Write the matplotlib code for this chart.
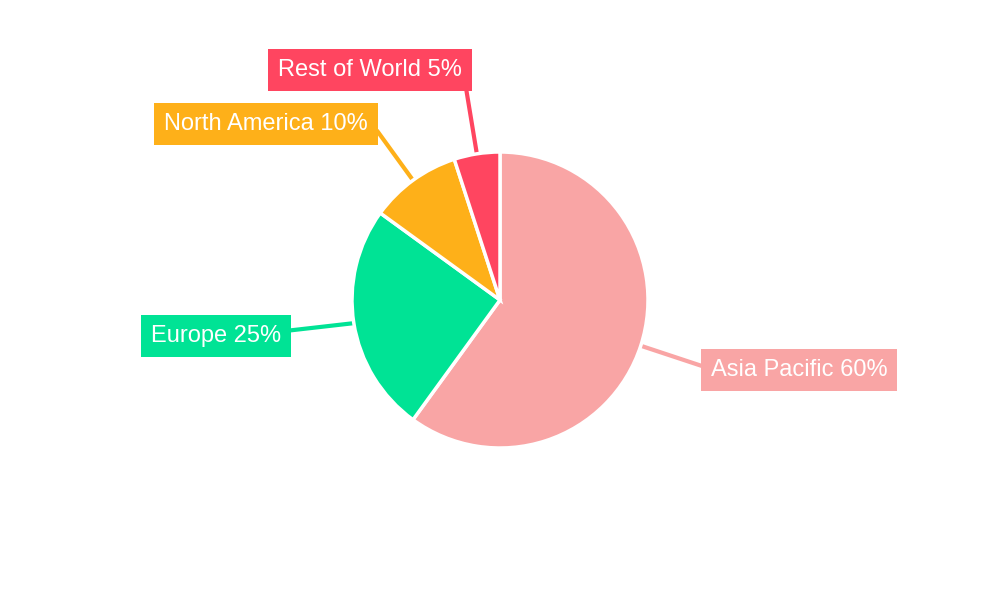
import matplotlib
matplotlib.use("Agg")
import matplotlib.pyplot as plt
import numpy as np

labels = ["Asia Pacific", "Europe", "North America", "Rest of World"]
values = [60, 25, 10, 5]
colors = ["#F9A5A5", "#00E395", "#FEB019", "#FF4560"]
# label box centres and leader line ends (data coords, pie centre at 0,0)
box_pos = [(299, -70), (-284, -36), (-234, 176), (-130, 230)]
line_end = [(205, -67), (-215, -31), (-122, 168), (-34, 212)]

plt.rcParams['font.family'] = ['Liberation Sans', 'DejaVu Sans']
fig = plt.figure(figsize=(10, 6), dpi=100)
ax = fig.add_axes([0, 0, 1, 1])

R = 148
wedges, _ = ax.pie(values, colors=colors, startangle=90, counterclock=False,
                   radius=R, center=(0, 0), frame=True,
                   wedgeprops=dict(edgecolor="white", linewidth=2.5))
ax.set_xlim(-500, 500)
ax.set_ylim(-300, 300)
ax.set_aspect("equal")
ax.axis("off")

total = sum(values)
start = 90.0
for i, v in enumerate(values):
    sweep = 360 * v / total
    mid = np.deg2rad(start - sweep / 2)
    start -= sweep
    x0, y0 = R * np.cos(mid), R * np.sin(mid)
    ax.plot([x0, line_end[i][0]], [y0, line_end[i][1]], color=colors[i], lw=3, zorder=0)
    ax.text(box_pos[i][0], box_pos[i][1], f"{labels[i]} {values[i]}%", color="white",
            fontsize=17, ha="center", va="center", zorder=3,
            bbox=dict(boxstyle="square,pad=0.42", fc=colors[i], ec="none"))

fig.savefig("out.png", dpi=100)
